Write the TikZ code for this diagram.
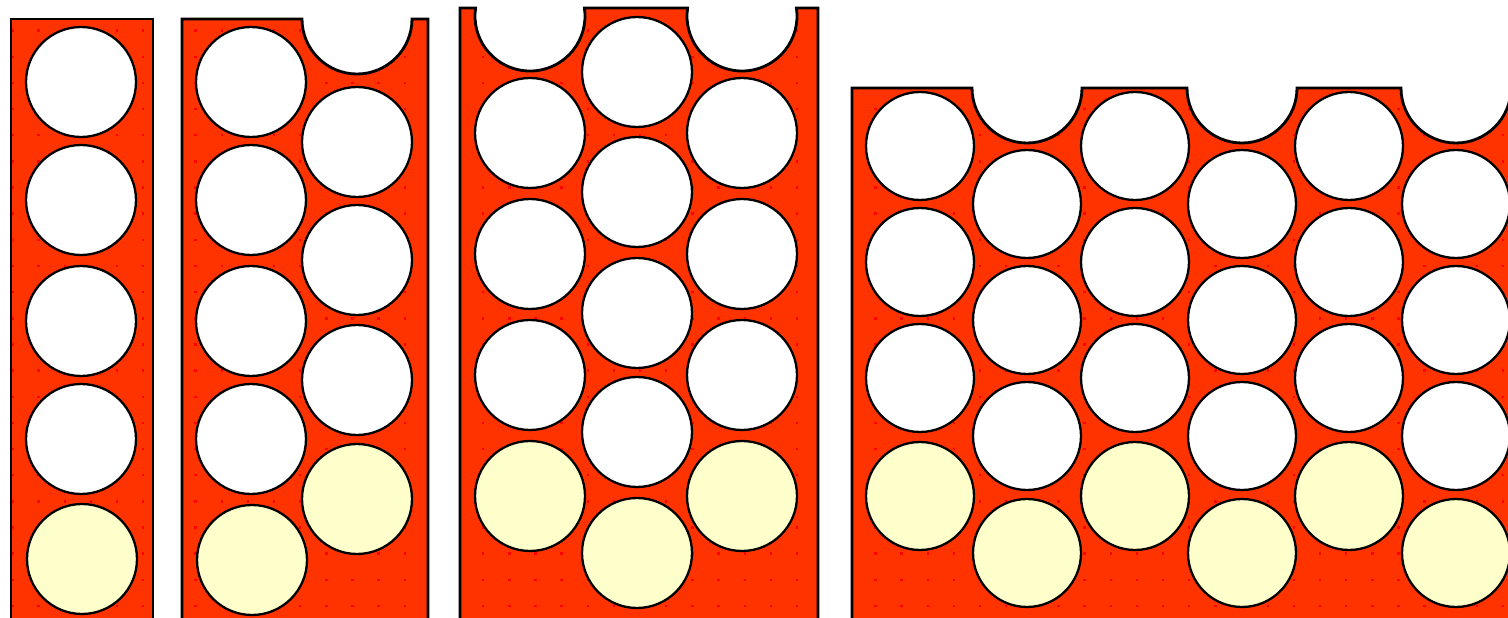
\documentclass[tikz,border=0pt]{standalone}
\usepackage{tikz}
\definecolor{panelred}{HTML}{FF3300}
\definecolor{dotred}{HTML}{FF0000}
\definecolor{holeyellow}{HTML}{FFFFCC}

\begin{document}
\begin{tikzpicture}[x=0.02cm, y=-0.02cm, line join=miter]
        \tikzstyle{hole}=[circle, draw=black, line width=1.3pt, fill=white, minimum size=2.2cm, inner sep=0pt]
        \tikzstyle{full hole}=[hole, fill=holeyellow]
        \tikzstyle{small hole}=[hole, minimum size=2.16cm]
        \tikzstyle{small full hole}=[small hole, fill=holeyellow]
        \tikzstyle{panel edge}=[draw=black, line width=1.6pt]
        % Parameters
        \def\rad{55}
        \def\dotSep{26.15}

        % Outlines of the four panels (open at the bottom)
        \def\panelA{(11,640) -- (11,19) -- (153,19) -- (153,640)}
        \def\panelB{(182,640) -- (182,19) -- (302,19) arc[start angle=180, end angle=0, radius=\rad] -- (428,19) -- (428,640)}
        \def\panelC{(460,640) -- (460,8) -- (475.6,8) arc[start angle=188.4, end angle=-8.4, radius=\rad] -- (687.6,8) arc[start angle=188.4, end angle=-8.4, radius=\rad] -- (818,8) -- (818,640)}
        \def\panelD{(852,640) -- (852,88) -- (972,88) arc[start angle=180, end angle=0, radius=\rad] -- (1187,88) arc[start angle=180, end angle=0, radius=\rad] -- (1401,88) arc[start angle=180, end angle=0, radius=\rad] -- (1530,88) -- (1530,640)}

        \useasboundingbox (0,0) rectangle (1508,618);
        \clip (0,0) rectangle (1508,618);

        % Red plates
        \fill[panelred] \panelA -- cycle;
        \fill[panelred] \panelB -- cycle;
        \fill[panelred] \panelC -- cycle;
        \fill[panelred] \panelD -- cycle;

        % Dot texture of the plates
        \begin{scope}
            \clip \panelA -- cycle \panelB -- cycle \panelC -- cycle \panelD -- cycle;
            \foreach \i in {0,...,57}
                \foreach \j in {0,...,23}
                    \fill[dotred] ({12.5+\dotSep*\i-1.2},{4.5+\dotSep*\j-1.2}) rectangle +(2.4,2.4);
        \end{scope}

        % Panel 1: one column
        \foreach \y [count=\i] in {82,200,321,439}
            \node[hole] (A-\i) at (81,\y) {};
        \node[full hole] (A-5) at (82,559) {};

        % Panel 2: two columns, the right one shifted down
        \foreach \y [count=\i] in {82,200,321,439}
            \node[hole] (B-1-\i) at (251,\y) {};
        \node[full hole] (B-1-5) at (252,560) {};
        \foreach \y [count=\i] in {142,260,380}
            \node[hole] (B-2-\i) at (357,\y) {};
        \node[full hole] (B-2-4) at (357,499) {};

        % Panel 3: three columns, the middle one higher
        \foreach \x/\c in {530/1,742/3} {
            \foreach \y [count=\i] in {133,254,375}
                \node[hole] (C-\c-\i) at (\x,\y) {};
            \node[full hole] (C-\c-4) at (\x,496) {};
        }
        \foreach \y [count=\i] in {72,192,313,432}
            \node[hole] (C-2-\i) at (637,\y) {};
        \node[full hole] (C-2-5) at (637,553) {};

        % Panel 4: six columns, alternating heights
        \foreach \x [count=\c] in {920,1135,1349} {
            \foreach \y [count=\i] in {146,262,378}
                \node[small hole] (D-\c-\i) at (\x,\y) {};
            \node[small full hole] (D-\c-4) at (\x,496) {};
        }
        \foreach \x [count=\c] in {1027,1242,1456} {
            \foreach \y [count=\i] in {204,320,436}
                \node[small hole] (E-\c-\i) at (\x,\y) {};
            \node[small full hole] (E-\c-4) at (\x,553) {};
        }

        % Edges of the plates
        \draw[panel edge] \panelA;
        \draw[panel edge] \panelB;
        \draw[panel edge] \panelC;
        \draw[panel edge] \panelD;
\end{tikzpicture}
\end{document}
